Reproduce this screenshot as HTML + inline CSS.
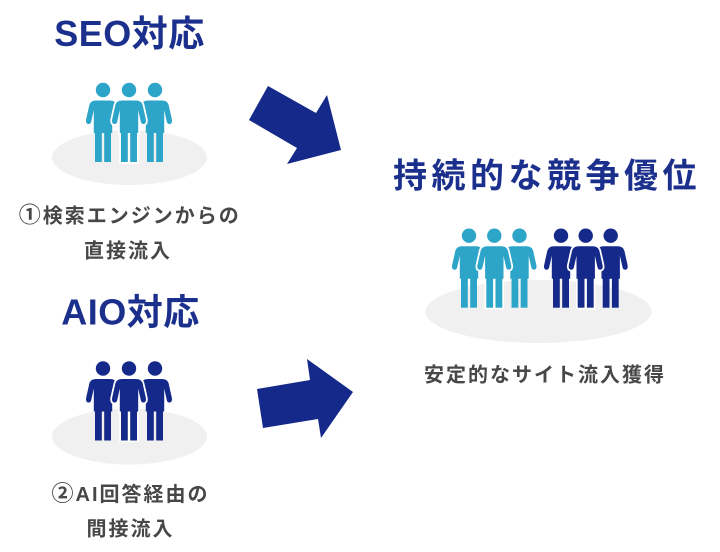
<!DOCTYPE html>
<html>
<head>
<meta charset="utf-8">
<style>
html,body{margin:0;padding:0;background:#fff;}
svg{display:block;}
.t{font-family:"Liberation Sans","Noto Sans CJK JP",sans-serif;}
</style>
</head>
<body>
<svg width="720" height="552" viewBox="0 0 720 552" xmlns="http://www.w3.org/2000/svg">
<defs>
<g id="p">
<circle cx="0" cy="0" r="7.2"/>
<path d="M-7,10.5 H7 Q12.3,10.5 13.6,14.8 L16.9,29.5 Q17.5,33.6 14.8,34 Q12.3,34.4 11.7,31.2 L9.2,20 V43 H-9.2 V20 L-11.7,31.2 Q-12.3,34.4 -14.8,34 Q-17.5,33.6 -16.9,29.5 L-13.6,14.8 Q-12.3,10.5 -7,10.5 Z"/>
<rect x="-8" y="40" width="6.8" height="32"/>
<rect x="1.2" y="40" width="6.8" height="32"/>
</g>
</defs>
<rect width="720" height="552" fill="#fff"/>

<!-- ellipses -->
<ellipse cx="129.5" cy="157.5" rx="77.5" ry="27.5" fill="#f0f0f0"/>
<ellipse cx="129.5" cy="436.5" rx="77.5" ry="28" fill="#f0f0f0"/>
<ellipse cx="538.5" cy="311.5" rx="113" ry="31.5" fill="#f0f0f0"/>

<!-- group 1 SEO (light blue) -->
<g fill="#2ca5c9">
<use href="#p" x="103" y="90"/>
<use href="#p" x="155" y="90"/>
</g>
<use href="#p" x="129" y="90" fill="#fff" stroke="#fff" stroke-width="3.5"/>
<use href="#p" x="129" y="90" fill="#2ca5c9"/>

<!-- group 2 AIO (navy) -->
<g fill="#15298a">
<use href="#p" x="103" y="368.5"/>
<use href="#p" x="155" y="368.5"/>
</g>
<use href="#p" x="129" y="368.5" fill="#fff" stroke="#fff" stroke-width="3.5"/>
<use href="#p" x="129" y="368.5" fill="#15298a"/>

<!-- right group -->
<g fill="#2ca5c9">
<use href="#p" x="469" y="235.7"/>
<use href="#p" x="519.5" y="235.7"/>
</g>
<use href="#p" x="494.3" y="235.7" fill="#fff" stroke="#fff" stroke-width="3.5"/>
<use href="#p" x="494.3" y="235.7" fill="#2ca5c9"/>
<g fill="#15298a">
<use href="#p" x="561" y="235.7"/>
<use href="#p" x="610.7" y="235.7"/>
</g>
<use href="#p" x="585.7" y="235.7" fill="#fff" stroke="#fff" stroke-width="3.5"/>
<use href="#p" x="585.7" y="235.7" fill="#15298a"/>

<!-- arrows -->
<polygon points="268,86 316,113 327,95 341,150 287,164 297,148 249,120" fill="#15298a"/>
<polygon points="257,389 310,380 307,359 353,392 321,438 318,419 263,428" fill="#15298a"/>

<!-- titles -->
<text class="t" x="129.5" y="46" text-anchor="middle" font-size="36" font-weight="bold" fill="#1b2f8d" letter-spacing="0.5">SEO対応</text>
<text class="t" x="130.5" y="324.5" text-anchor="middle" font-size="36" font-weight="bold" fill="#1b2f8d" letter-spacing="0.5">AIO対応</text>
<text class="t" x="547" y="187.5" text-anchor="middle" font-size="34" font-weight="bold" fill="#1b2f8d" letter-spacing="4.5">持続的な競争優位</text>

<!-- labels -->
<g class="t" font-size="20" font-weight="bold" fill="#474747" letter-spacing="2" text-anchor="middle">
<text x="129.7" y="222.4"><tspan font-size="22">①</tspan>検索エンジンからの</text>
<text x="128" y="257.5">直接流入</text>
<text x="130.5" y="501"><tspan font-size="22">②</tspan>AI回答経由の</text>
<text x="130.5" y="535.5">間接流入</text>
<text x="545" y="381.7">安定的なサイト流入獲得</text>
</g>
</svg>
</body>
</html>
